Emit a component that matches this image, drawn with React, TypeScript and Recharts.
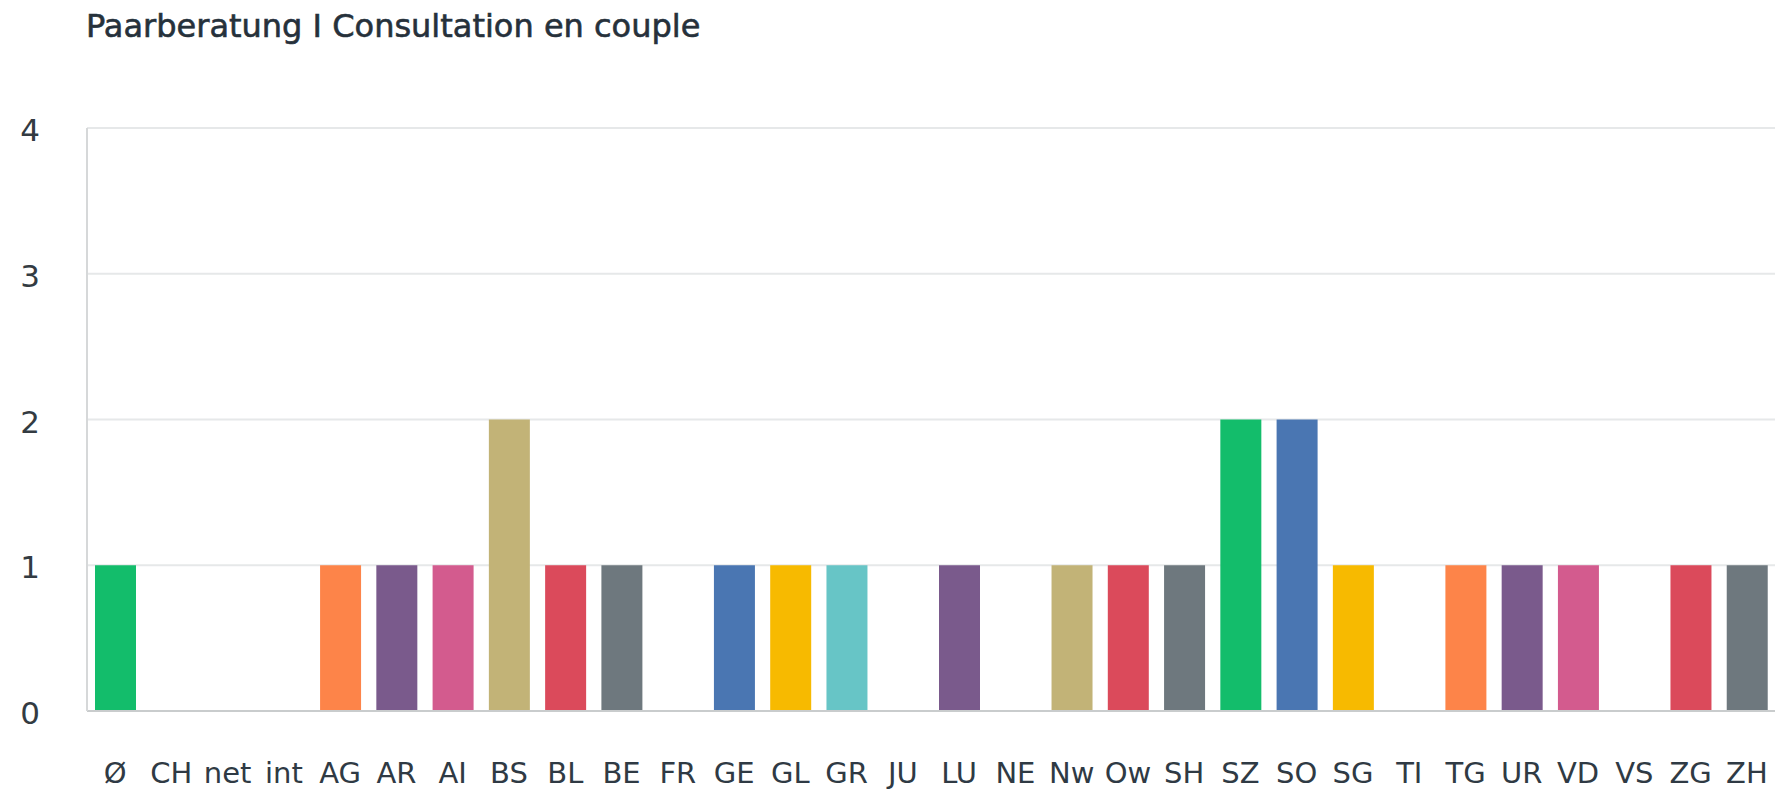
import React from "react";
import { BarChart, Bar, XAxis, YAxis, CartesianGrid, Cell } from "recharts";

const cantons = [
  "Ø", "CH", "net", "int", "AG", "AR", "AI", "BS", "BL", "BE",
  "FR", "GE", "GL", "GR", "JU", "LU", "NE", "Nw", "Ow", "SH",
  "SZ", "SO", "SG", "TI", "TG", "UR", "VD", "VS", "ZG", "ZH",
];
const counts = [
  1, 0, 0, 0, 1, 1, 1, 2, 1, 1,
  0, 1, 1, 1, 0, 1, 0, 1, 1, 1,
  2, 2, 1, 0, 1, 1, 1, 0, 1, 1,
];
const barColors = [
  "#13bd6b", "#fd8449", "#7a5a8c", "#d35b8e", "#fd8449", "#7a5a8c", "#d35b8e", "#c2b377", "#db4a5b", "#6e787e",
  "#4a76b2", "#4a76b2", "#f7ba00", "#67c5c6", "#13bd6b", "#7a5a8c", "#d35b8e", "#c2b377", "#db4a5b", "#6e787e",
  "#13bd6b", "#4a76b2", "#f7ba00", "#67c5c6", "#fd8449", "#7a5a8c", "#d35b8e", "#c2b377", "#db4a5b", "#6e787e",
];
const yTicks = [0, 1, 2, 3, 4];

const data = cantons.map((c, i) => ({ canton: c, value: counts[i] }));

const FONT = "'DejaVu Sans', sans-serif";

// y labels sit a touch below their grid line in the original
const YTick = (props: any) => {
  const { x, y, payload } = props;
  return (
    <text x={x} y={y + 2} dy="0.355em" textAnchor="end" fontSize={31} fill="#333b42" fontFamily={FONT}>
      {payload.value}
    </text>
  );
};

export default function App() {
  return (
    <div style={{ position: "absolute", left: 0, top: 0, width: 1778, height: 791, background: "#fff" }}>
      <div
        style={{
          position: "absolute", left: 86, top: 7,
          fontFamily: FONT, fontSize: 32, color: "#26313b", whiteSpace: "nowrap",
          WebkitTextStroke: "0.6px #26313b",
        }}
      >
        Paarberatung I Consultation en couple
      </div>
      <BarChart
        width={1778}
        height={791}
        data={data}
        margin={{ top: 128, right: 3, bottom: 0, left: 0 }}
        style={{ fontFamily: FONT }}
      >
        <CartesianGrid vertical={false} stroke="#e6e8e9" strokeWidth={2} />
        <XAxis
          dataKey="canton"
          height={80}
          interval={0}
          tickLine={false}
          tickSize={0}
          tickMargin={51}
          axisLine={{ stroke: "#c9cccd", strokeWidth: 2 }}
          tick={{ fontSize: 29, fill: "#2f3a44" }}
        />
        <YAxis
          width={87}
          domain={[0, 4]}
          ticks={yTicks}
          interval={0}
          tickLine={false}
          tickSize={0}
          tickMargin={47}
          axisLine={{ stroke: "#d6d8d9", strokeWidth: 2 }}
          tick={<YTick />}
        />
        <Bar dataKey="value" barSize={41} isAnimationActive={false}>
          {data.map((d, i) => (
            <Cell key={d.canton} fill={barColors[i]} />
          ))}
        </Bar>
      </BarChart>
    </div>
  );
}
